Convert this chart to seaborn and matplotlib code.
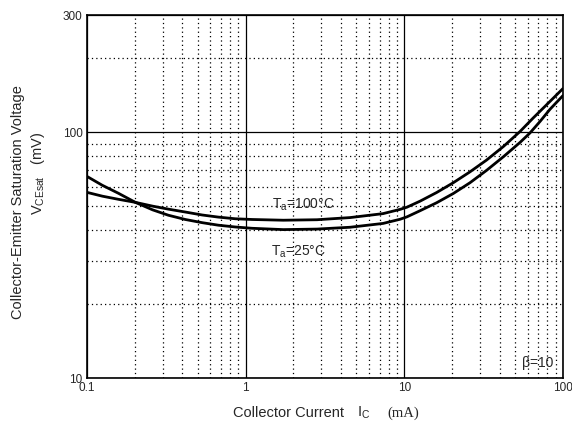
import matplotlib
matplotlib.use("Agg")
import matplotlib.pyplot as plt
import matplotlib.ticker as mticker
import numpy as np
import pandas as pd
import seaborn as sns

# collector current (mA) and saturation voltage (mV)
ic_100 = [0.1, 0.125, 0.158, 0.202, 0.259, 0.326, 0.417, 0.533, 0.673, 0.861, 1.1, 1.73, 2.82,
          4.56, 7.36, 9.42, 10.4, 12.6, 16.0, 20.4, 26.0, 33.1, 42.2, 53.7, 64.9, 83, 100]
vce_100 = [57.0, 55.0, 53.4, 51.9, 50.1, 48.7, 47.4, 46.1, 45.2, 44.5, 44.2, 43.9, 44.1,
           45.0, 46.7, 48.6, 49.6, 52.5, 56.9, 62.4, 69.1, 77.2, 87.6, 100.8, 114.3, 133.7, 150.6]
ic_25 = [0.1, 0.125, 0.158, 0.202, 0.259, 0.326, 0.417, 0.533, 0.673, 0.861, 1.1, 1.73, 2.82,
         4.56, 7.36, 9.42, 10.4, 12.6, 16.0, 20.4, 26.0, 33.1, 42.2, 53.7, 62.1, 72, 83, 100]
vce_25 = [66.2, 60.9, 56.5, 51.9, 48.4, 46.0, 44.2, 42.9, 41.9, 41.2, 40.7, 40.2, 40.4,
          41.1, 42.6, 44.3, 45.3, 48.0, 51.7, 56.4, 62.4, 70.1, 79.6, 91.0, 99.5, 111, 124.2, 141.0]

xticks = [0.1, 1, 10, 100]
xticklabels = ['0.1', '1', '10', '100']
yticks = [10, 100, 300]
yticklabels = ['10', '100', '300']

df = pd.DataFrame({
    'ic': ic_100 + ic_25,
    'v': vce_100 + vce_25,
    'temp': ['100'] * len(ic_100) + ['25'] * len(ic_25),
})

sns.set_style('white')
plt.rcParams['font.family'] = ['Liberation Sans', 'DejaVu Sans']
plt.rcParams['mathtext.fontset'] = 'custom'
plt.rcParams['mathtext.rm'] = 'Liberation Sans'

fig = plt.figure(figsize=(5.72, 4.21), dpi=100)
ax = fig.add_axes([0.152, 0.102, 0.832, 0.862])

sns.lineplot(data=df, x='ic', y='v', units='temp', estimator=None,
             color='black', linewidth=2, ax=ax, legend=False,
             solid_joinstyle='round')

ax.set_xscale('log')
ax.set_yscale('log')
ax.set_xlim(0.1, 100)
ax.set_ylim(10, 300)

ax.set_xticks(xticks)
ax.set_xticklabels(xticklabels, fontsize=8.5)
ax.set_yticks(yticks)
ax.set_yticklabels(yticklabels, fontsize=8.5)
ax.xaxis.set_minor_locator(mticker.LogLocator(base=10, subs=range(2, 10)))
ax.yaxis.set_minor_locator(mticker.LogLocator(base=10, subs=range(2, 10)))
ax.xaxis.set_minor_formatter(mticker.NullFormatter())
ax.yaxis.set_minor_formatter(mticker.NullFormatter())
ax.tick_params(which='both', length=0, pad=3)

ax.grid(which='major', color='black', linewidth=0.9, linestyle='-')
ax.grid(which='minor', color='black', linewidth=0.9, linestyle=(0, (1, 2.5)))
for s in ax.spines.values():
    s.set_color('black')
    s.set_linewidth(1.2)

ax.set_xlabel('')
ax.set_ylabel('')

ax.text(2.3, 50.5, r'T$\mathregular{_a}$=100°C', fontsize=10, ha='center', va='center')
ax.text(2.16, 32.5, r'T$\mathregular{_a}$=25°C', fontsize=10, ha='center', va='center')
ax.text(69.5, 11.5, 'β=10', fontsize=10, ha='center', va='center')

fig.text(0.407, 0.019, 'Collector Current', fontsize=10.5, ha='left', va='center')
fig.text(0.624, 0.019, r'I$\mathregular{_C}$', fontsize=10.5, ha='left', va='center')
fig.text(0.677, 0.019, '(mA)', fontsize=10.5, ha='left', va='center', family='Liberation Serif')

fig.text(0.031, 0.52, 'Collector-Emitter Saturation Voltage', fontsize=10.5,
         rotation=90, ha='center', va='center')
fig.text(0.066, 0.589, r'V$\mathregular{_{CEsat}}$   (mV)', fontsize=10.5,
         rotation=90, ha='center', va='center')

fig.savefig('out.png', dpi=100)
